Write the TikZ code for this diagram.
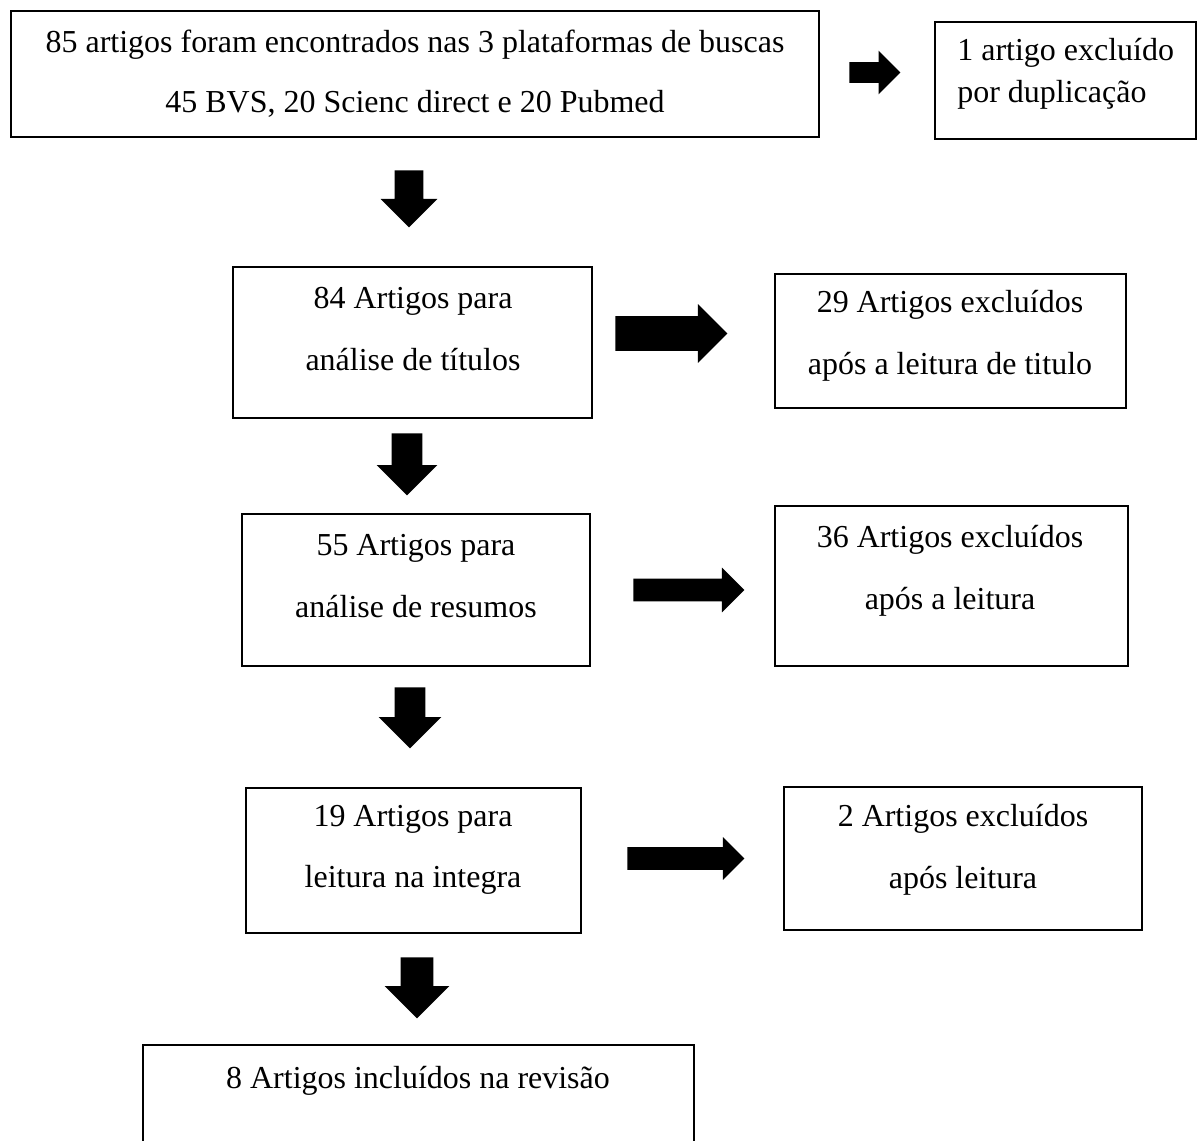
\documentclass[tikz,border=0pt]{standalone}
\usepackage{fontspec}
\setmainfont{Liberation Serif}
\usetikzlibrary{shapes.arrows}

\begin{document}
\begin{tikzpicture}[x=0.02cm, y=-0.02cm,
    caixa/.style={draw, line width=0.8pt, inner sep=0pt},
    texto/.style={align=center, inner sep=0pt, font=\fontsize{18.2}{35}\selectfont},
    seta/.style={single arrow, fill=black, inner xsep=0pt, anchor=tail, single arrow head extend=#1},
    seta/.default=0.22cm]

        \useasboundingbox (0,0) rectangle (1197,1140);
        \clip (0,0) rectangle (1197,1140);

        % caixas
        \node[caixa, minimum width=16.16cm, minimum height=2.52cm] (busca) at (415,74) {};
        \node[caixa, minimum width=5.22cm, minimum height=2.34cm] (dup) at (1065.5,80.5) {};
        \node[caixa, minimum width=7.18cm, minimum height=3.02cm] (tit) at (412.5,342.5) {};
        \node[caixa, minimum width=7.02cm, minimum height=2.68cm] (extit) at (950.5,341) {};
        \node[caixa, minimum width=6.96cm, minimum height=3.04cm] (res) at (416,590) {};
        \node[caixa, minimum width=7.06cm, minimum height=3.2cm] (exres) at (951.5,586) {};
        \node[caixa, minimum width=6.7cm, minimum height=2.9cm] (integ) at (413.5,860.5) {};
        \node[caixa, minimum width=7.16cm, minimum height=2.86cm] (exinteg) at (963,858.5) {};
        \node[caixa, minimum width=11.02cm, minimum height=2.4cm] (final) at (418.5,1105) {};

        % textos
        \node[texto, font=\fontsize{18.2}{34}\selectfont] (tbusca) at (415,74) {85 artigos foram encontrados nas 3 plataformas de buscas\\45 BVS, 20 Scienc direct e 20 Pubmed};
        \node[texto, align=left, anchor=west, font=\fontsize{18.2}{24}\selectfont] (tdup) at (957,74) {1 artigo excluído\\por duplicação};
        \node[texto] (ttit) at (413,329) {84 Artigos para\\análise de títulos};
        \node[texto] (textit) at (950,336) {29 Artigos excluídos\\após a leitura de titulo};
        \node[texto] (tres) at (416,576) {55 Artigos para\\análise de resumos};
        \node[texto] (texres) at (950,571) {36 Artigos excluídos\\após a leitura};
        \node[texto] (tinteg) at (413,850) {19 Artigos para\\leitura na integra};
        \node[texto] (texinteg) at (963,850) {2 Artigos excluídos\\após leitura};
        \node[texto] (tfinal) at (418,1081) {8 Artigos incluídos na revisão};

        % setas
        \node[seta=0.23cm, inner ysep=0.2cm, minimum height=1.02cm] (s0) at (849,72.5) {};
        \node[seta=0.24cm, inner ysep=0.34cm, minimum height=2.24cm] (s1) at (615,333.5) {};
        \node[seta, inner ysep=0.22cm, minimum height=2.22cm] (s2) at (633,590) {};
        \node[seta=0.2cm, inner ysep=0.22cm, minimum height=2.34cm] (s3) at (627,858.5) {};
        \node[seta=0.28cm, inner ysep=0.28cm, rotate=-90, minimum height=1.14cm] (d1) at (409,170) {};
        \node[seta=0.3cm, inner ysep=0.3cm, rotate=-90, minimum height=1.24cm] (d2) at (407,433) {};
        \node[seta=0.32cm, inner ysep=0.3cm, rotate=-90, minimum height=1.22cm] (d3) at (410,687) {};
        \node[seta=0.32cm, inner ysep=0.32cm, rotate=-90, minimum height=1.22cm] (d4) at (417,957) {};
    \end{tikzpicture}
\end{document}
